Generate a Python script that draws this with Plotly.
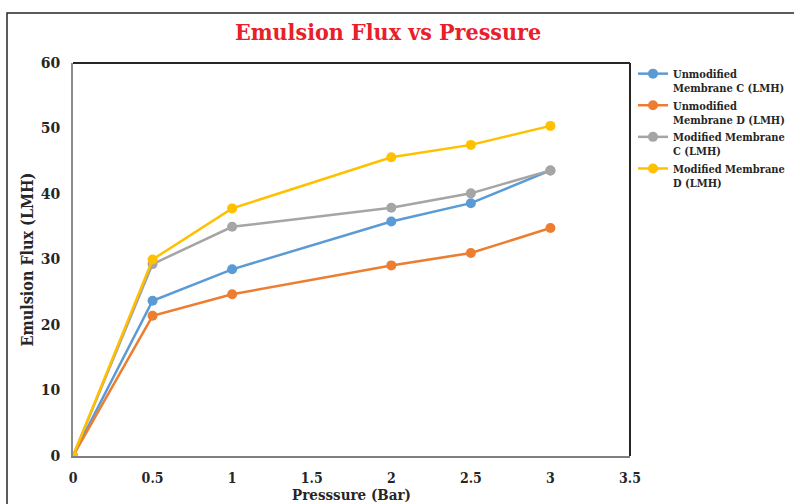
import plotly.graph_objects as go

# Pressure (bar) and emulsion flux (LMH) for each membrane
pressure = [0, 0.5, 1, 2, 2.5, 3]
unmod_c = [0, 23.7, 28.5, 35.8, 38.6, 43.6]
unmod_d = [0, 21.4, 24.7, 29.1, 31.0, 34.8]
mod_c = [0, 29.3, 35.0, 37.9, 40.1, 43.6]
mod_d = [0, 30.0, 37.8, 45.6, 47.5, 50.4]

series_names = [
    "Unmodified<br>Membrane C (LMH)",
    "Unmodified<br>Membrane D (LMH)",
    "Modified Membrane<br>C (LMH)",
    "Modified Membrane<br>D (LMH)",
]
series_values = [unmod_c, unmod_d, mod_c, mod_d]
colors = ["#5B9BD5", "#ED7D31", "#A5A5A5", "#FFC000"]

x_ticks = [0, 0.5, 1, 1.5, 2, 2.5, 3, 3.5]
x_tick_text = ["0", "0.5", "1", "1.5", "2", "2.5", "3", "3.5"]
y_ticks = [0, 10, 20, 30, 40, 50, 60]

serif = "DejaVu Serif Condensed"
fig = go.Figure()
for name, vals, col in zip(series_names, series_values, colors):
    fig.add_trace(go.Scatter(
        x=pressure, y=vals, name="<b>" + name + "</b>", mode="lines+markers",
        line=dict(color=col, width=2.5),
        marker=dict(color=col, size=10),
    ))

fig.update_layout(
    width=794, height=504,
    margin=dict(l=73, r=164, t=63, b=48, autoexpand=False),
    paper_bgcolor="white", plot_bgcolor="white",
    title=dict(text="<b>Emulsion Flux vs Pressure</b>", x=388 / 794, xanchor="center",
               y=1 - 32 / 504, yanchor="middle",
               font=dict(family=serif, size=23, color="#E8202A")),
    xaxis=dict(range=[0, 3.5], tickvals=x_ticks,
               ticktext=["<b>" + t + "</b>" for t in x_tick_text],
               showgrid=False, zeroline=False, showline=True, linecolor="#7F7F7F",
               linewidth=2, ticks="", ticklabelstandoff=8, automargin=False,
               tickfont=dict(family=serif, size=14, color="#262626"),
               title=dict(text="<b>Presssure (Bar)</b>", standoff=2,
                          font=dict(family=serif, size=15, color="#262626"))),
    yaxis=dict(range=[0, 60], tickvals=y_ticks,
               ticktext=["<b>" + str(v) + "</b>" for v in y_ticks],
               showgrid=False, zeroline=False, automargin=False,
               showline=True, linecolor="#8C8C8C", linewidth=2, ticks="",
               ticklabelstandoff=8,
               tickfont=dict(family="DejaVu Serif", size=14, color="#262626"),
               title=dict(text="<b>Emulsion Flux (LMH)</b>", standoff=3,
                          font=dict(family=serif, size=16, color="#262626"))),
    legend=dict(xref="container", yref="container", x=633 / 794, xanchor="left",
                y=1 - 60 / 504, yanchor="top", valign="top",
                tracegroupgap=0, itemwidth=30,
                font=dict(family=serif, size=11, color="#262626"),
                bgcolor="rgba(0,0,0,0)"),
    showlegend=True,
)

# frame around plot area (top/right darker)
fig.add_shape(type="line", xref="paper", yref="paper", x0=0, x1=1, y0=1, y1=1,
              line=dict(color="#262626", width=2))
fig.add_shape(type="line", xref="paper", yref="paper", x0=1, x1=1, y0=0, y1=1,
              line=dict(color="#262626", width=2))
# outer chart border
px_x = lambda p: (p - 73) / 557
px_y = lambda p: (456 - p) / 393
fig.add_shape(type="rect", xref="paper", yref="paper",
              x0=px_x(7), x1=px_x(820), y0=px_y(13), y1=px_y(530),
              line=dict(color="#262626", width=1.5), layer="below")

fig.write_html("out.html")
